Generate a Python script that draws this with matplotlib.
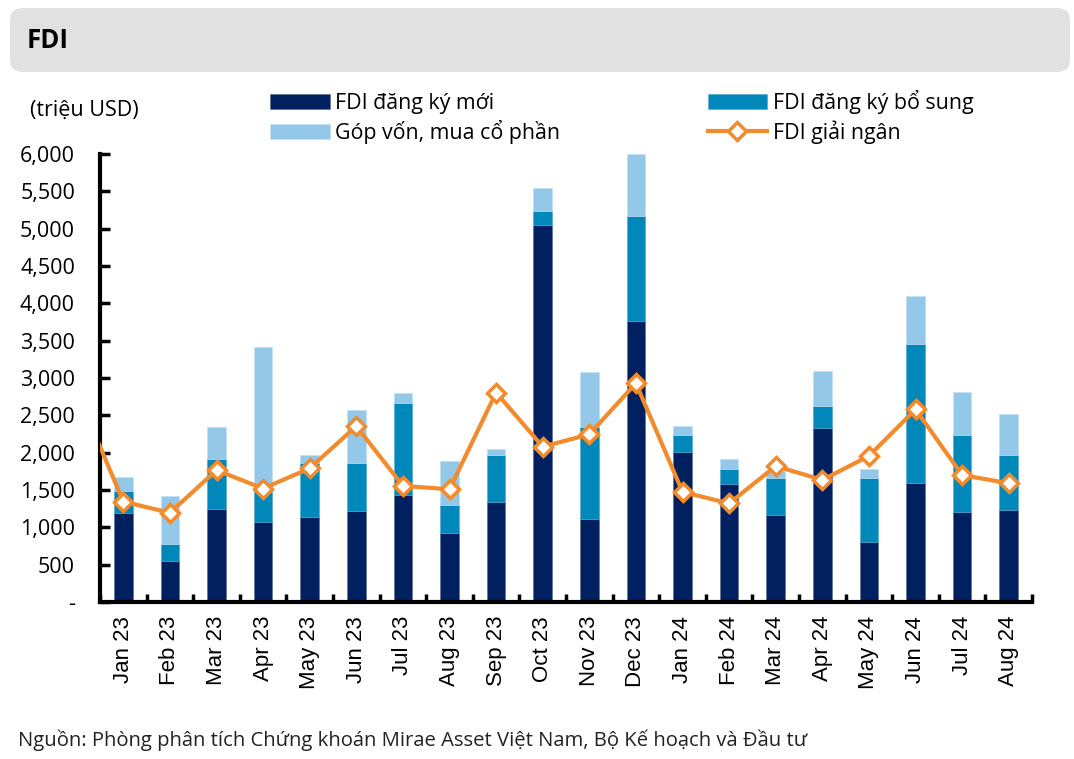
import numpy as np
import matplotlib
matplotlib.use('Agg')
import matplotlib.pyplot as plt
from matplotlib.patches import FancyBboxPatch
from matplotlib.ticker import FuncFormatter, FixedLocator

plt.rcParams['font.family'] = ['Open Sans', 'Noto Sans', 'DejaVu Sans']

months = ['Jan 23', 'Feb 23', 'Mar 23', 'Apr 23', 'May 23', 'Jun 23', 'Jul 23',
          'Aug 23', 'Sep 23', 'Oct 23', 'Nov 23', 'Dec 23', 'Jan 24', 'Feb 24',
          'Mar 24', 'Apr 24', 'May 24', 'Jun 24', 'Jul 24', 'Aug 24']
# million USD
fdi_new = [1190, 550, 1245, 1070, 1140, 1220, 1435, 920, 1345, 5050, 1105, 3765,
           2005, 1575, 1165, 2325, 805, 1590, 1210, 1230]
fdi_add = [300, 230, 670, 530, 720, 645, 1225, 380, 625, 180, 1245, 1405,
           230, 200, 500, 305, 860, 1860, 1020, 740]
fdi_gop = [180, 635, 425, 1820, 110, 700, 135, 590, 75, 320, 735, 830,
           120, 140, 95, 465, 120, 650, 580, 545]
# disbursed, first value is Dec 22 (clipped off the left edge)
fdi_disb = [2820, 1345, 1195, 1765, 1520, 1790, 2355, 1555, 1510, 2805, 2080,
            2245, 2930, 1475, 1320, 1820, 1635, 1955, 2580, 1700, 1590]

c_new = '#00205F'
c_add = '#0088BB'
c_gop = '#93C8E8'
c_line = '#F38A2C'

fig = plt.figure(figsize=(10.74, 7.59), dpi=100)

# title bar
fig.patches.append(FancyBboxPatch((10 / 1074, 1 - 72 / 759), 1060 / 1074, 64 / 759,
                                  boxstyle='round,pad=0,rounding_size=0.012',
                                  transform=fig.transFigure, facecolor='#E1E1E1',
                                  edgecolor='none', mutation_aspect=1074 / 759))
fig.text(27 / 1074, 1 - 40 / 759, 'FDI', fontsize=18.5, fontweight='bold', va='center')

ax = fig.add_axes([100 / 1074, 157 / 759, 932 / 1074, 448 / 759])
x = np.arange(len(months))
new = np.array(fdi_new)
add = np.array(fdi_add)
gop = np.array(fdi_gop)
w = 0.4
b1 = ax.bar(x, new, w, color=c_new, edgecolor='#5a6a90', linewidth=0.4)
b2 = ax.bar(x, add, w, bottom=new, color=c_add, edgecolor='#4aa8cc', linewidth=0.4)
b3 = ax.bar(x, gop, w, bottom=new + add, color=c_gop, edgecolor='#c0e0f2', linewidth=0.4)
xd = np.arange(len(fdi_disb)) - 1
ln, = ax.plot(xd, fdi_disb, color=c_line, lw=3, marker='D', markersize=9,
              markerfacecolor='white', markeredgecolor=c_line, markeredgewidth=2.5,
              zorder=5)

ax.set_xlim(-0.5, len(months) - 0.5)
ax.set_ylim(0, 6000)
ax.set_yticks(np.arange(0, 6001, 500))
ax.yaxis.set_major_formatter(FuncFormatter(lambda v, p: '-' if v == 0 else f'{v:,.0f}'))
ax.xaxis.set_major_locator(FixedLocator(np.arange(-0.5, len(months), 1)))
ax.xaxis.set_major_formatter(FuncFormatter(lambda v, p: ''))
ax.set_xticks(x, minor=True)
ax.set_xticklabels(months, minor=True, rotation=90, fontsize=16,
                   family=['Liberation Sans', 'DejaVu Sans'])
ax.tick_params(axis='x', which='minor', length=0, pad=10)
ax.tick_params(axis='x', which='major', direction='in', length=6, width=2.5)
ax.tick_params(axis='y', direction='in', length=7, width=2.5, labelsize=15.5, pad=18)
for s in ['top', 'right']:
    ax.spines[s].set_visible(False)
for s in ['left', 'bottom']:
    ax.spines[s].set_linewidth(3)

fig.text(30 / 1074, 1 - 110 / 759, '(triệu USD)', fontsize=15.5, va='center')

fig.legend([b1, b3, b2, ln], ['FDI đăng ký mới', 'Góp vốn, mua cổ phần',
                              'FDI đăng ký bổ sung', 'FDI giải ngân'],
           ncol=2, loc='upper left', bbox_to_anchor=(259 / 1074, 1 - 79 / 759),
           frameon=False, fontsize=15.4, handlelength=2.8, handleheight=0.7,
           columnspacing=6.9, labelspacing=0.3, handletextpad=0.25, borderpad=0)

fig.text(18 / 1074, 1 - 740 / 759,
         'Nguồn: Phòng phân tích Chứng khoán Mirae Asset Việt Nam, Bộ Kế hoạch và Đầu tư',
         fontsize=14.6, va='center', color='#222222')

fig.savefig('out.png', dpi=100)
